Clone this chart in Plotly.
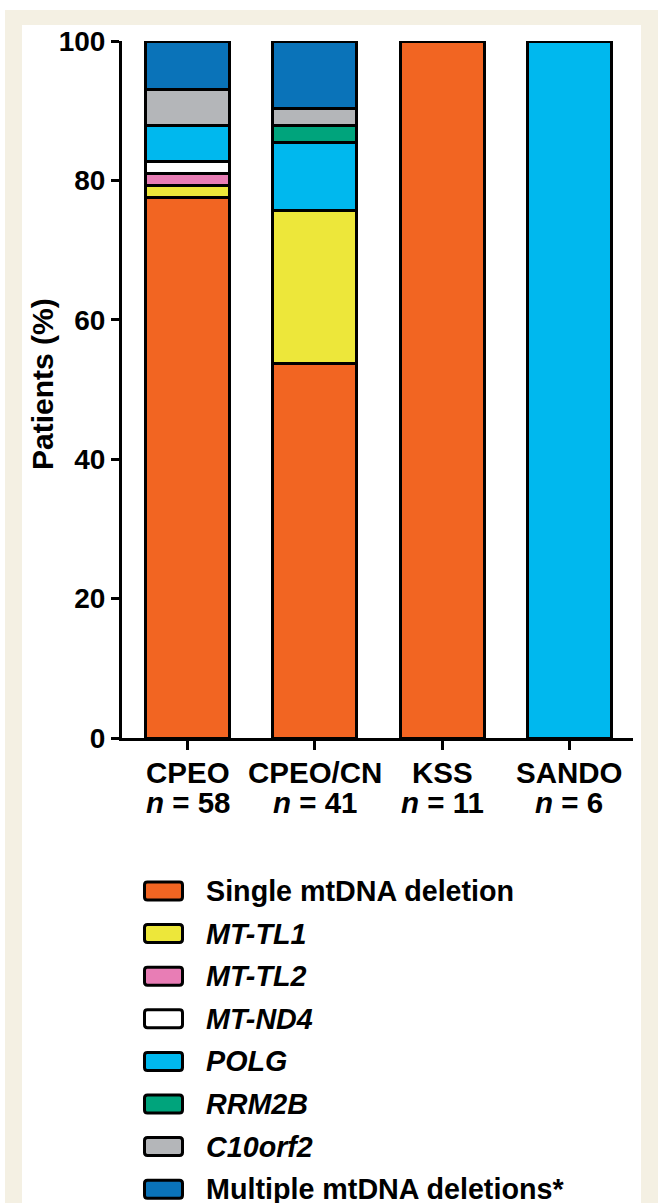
import plotly.graph_objects as go

# ---------------- data ----------------
categories = ["CPEO", "CPEO/CN", "KSS", "SANDO"]
n_patients = [58, 41, 11, 6]

series_names = ["Single mtDNA deletion", "MT-TL1", "MT-TL2", "MT-ND4",
                "POLG", "RRM2B", "C10orf2", "Multiple mtDNA deletions*"]
series_italic = [False, True, True, True, True, True, True, False]

single_deletion = [77.6, 53.7, 100.0, 0.0]
mt_tl1 = [1.7, 22.0, 0.0, 0.0]
mt_tl2 = [1.7, 0.0, 0.0, 0.0]
mt_nd4 = [1.7, 0.0, 0.0, 0.0]
polg = [5.2, 9.8, 0.0, 100.0]
rrm2b = [0.0, 2.4, 0.0, 0.0]
c10orf2 = [5.2, 2.4, 0.0, 0.0]
multiple_deletions = [6.9, 9.7, 0.0, 0.0]

y_ticks = [0, 20, 40, 60, 80, 100]

series_values = [single_deletion, mt_tl1, mt_tl2, mt_nd4, polg, rrm2b,
                 c10orf2, multiple_deletions]
colors = ["#F26522", "#EDE73A", "#E87DB5", "#FFFFFF", "#00B8EE",
          "#00A47C", "#B4B6B9", "#0A73B9"]

# ---------------- layout geometry ----------------
W, H = 658, 1203
L, R, T, B = 122, 25, 41, 465
pw, ph = W - L - R, H - T - B
FONT = "Arial, Liberation Sans, sans-serif"
BEIGE = "#F4F0E3"


def px_x(px):
    return (px - L) / pw


def px_y(py):
    return (H - B - py) / ph


fig = go.Figure()
xs = list(range(len(categories)))
for name, vals, col in zip(series_names, series_values, colors):
    fig.add_trace(go.Bar(
        x=xs,
        y=[v if v > 0 else None for v in vals],
        name=name,
        marker=dict(color=col, line=dict(color="black", width=3)),
        width=0.66,
        showlegend=False,
    ))

shapes = []


def frame_rect(x0, y0, x1, y1):
    shapes.append(dict(type="rect", xref="paper", yref="paper", layer="below",
                       x0=px_x(x0), x1=px_x(x1), y0=px_y(y1), y1=px_y(y0),
                       fillcolor=BEIGE, line=dict(width=0)))


# beige frame around white panel
frame_rect(5, 10, 658, 25)      # top band
frame_rect(5, 10, 22, 1203)     # left band
frame_rect(641, 10, 658, 1203)  # right band

annotations = []
# y-axis title
annotations.append(dict(text="<b>Patients (%)</b>", textangle=-90,
                        xref="paper", yref="paper", x=px_x(42), y=px_y(384),
                        xanchor="center", yanchor="middle", showarrow=False,
                        font=dict(family=FONT, size=30, color="black")))

# category labels: name line and n line
for xi, c, n in zip(xs, categories, n_patients):
    annotations.append(dict(text=f"<b>{c}</b>", xref="x", yref="paper",
                            x=xi, y=px_y(772), xanchor="center", yanchor="middle",
                            showarrow=False,
                            font=dict(family=FONT, size=29.5, color="black")))
    annotations.append(dict(text=f"<b><i>n</i> = {n}</b>", xref="x", yref="paper",
                            x=xi, y=px_y(802), xanchor="center", yanchor="middle",
                            showarrow=False,
                            font=dict(family=FONT, size=29.5, color="black")))

# manual legend
row_y0 = 891
row_step = 42.6
sx0, sx1 = 144.5, 182.5
sh = 9.0
r = 3.0
for i, (name, col, it) in enumerate(zip(series_names, colors, series_italic)):
    cy = row_y0 + i * row_step
    y0p, y1p = cy - sh, cy + sh

    def P(xp, yp):
        return f"{px_x(xp):.5f},{px_y(yp):.5f}"
    path = (f"M{P(sx0 + r, y0p)} L{P(sx1 - r, y0p)} Q{P(sx1, y0p)} {P(sx1, y0p + r)} "
            f"L{P(sx1, y1p - r)} Q{P(sx1, y1p)} {P(sx1 - r, y1p)} "
            f"L{P(sx0 + r, y1p)} Q{P(sx0, y1p)} {P(sx0, y1p - r)} "
            f"L{P(sx0, y0p + r)} Q{P(sx0, y0p)} {P(sx0 + r, y0p)} Z")
    shapes.append(dict(type="path", xref="paper", yref="paper", path=path,
                       fillcolor=col, line=dict(color="black", width=3)))
    label = f"<b><i>{name}</i></b>" if it else f"<b>{name}</b>"
    annotations.append(dict(text=label, xref="paper", yref="paper",
                            x=px_x(204), y=px_y(cy), xanchor="left",
                            yanchor="middle", showarrow=False,
                            font=dict(family=FONT, size=28.7, color="black")))

fig.update_layout(
    width=W, height=H,
    margin=dict(l=L, r=R, t=T, b=B, pad=0),
    barmode="stack",
    paper_bgcolor="white",
    plot_bgcolor="rgba(0,0,0,0)",
    font=dict(family=FONT, color="black"),
    shapes=shapes,
    annotations=annotations,
    xaxis=dict(
        range=[-0.515, 3.5],
        tickmode="array", tickvals=xs, ticktext=["" for _ in xs],
        showline=True, linecolor="black", linewidth=3,
        ticks="outside", ticklen=9, tickwidth=3, tickcolor="black",
        showgrid=False, zeroline=False,
    ),
    yaxis=dict(
        range=[0, 100],
        tickmode="array", tickvals=y_ticks,
        showline=True, linecolor="black", linewidth=3,
        ticks="outside", ticklen=8, tickwidth=3, tickcolor="black",
        showgrid=False, zeroline=False,
        tickfont=dict(family=FONT, size=28, color="black", weight=700),
    ),
)

fig.write_html("out.html",
               config={"displayModeBar": False},
               post_script="document.body.style.margin='0';document.body.style.padding='0';")
